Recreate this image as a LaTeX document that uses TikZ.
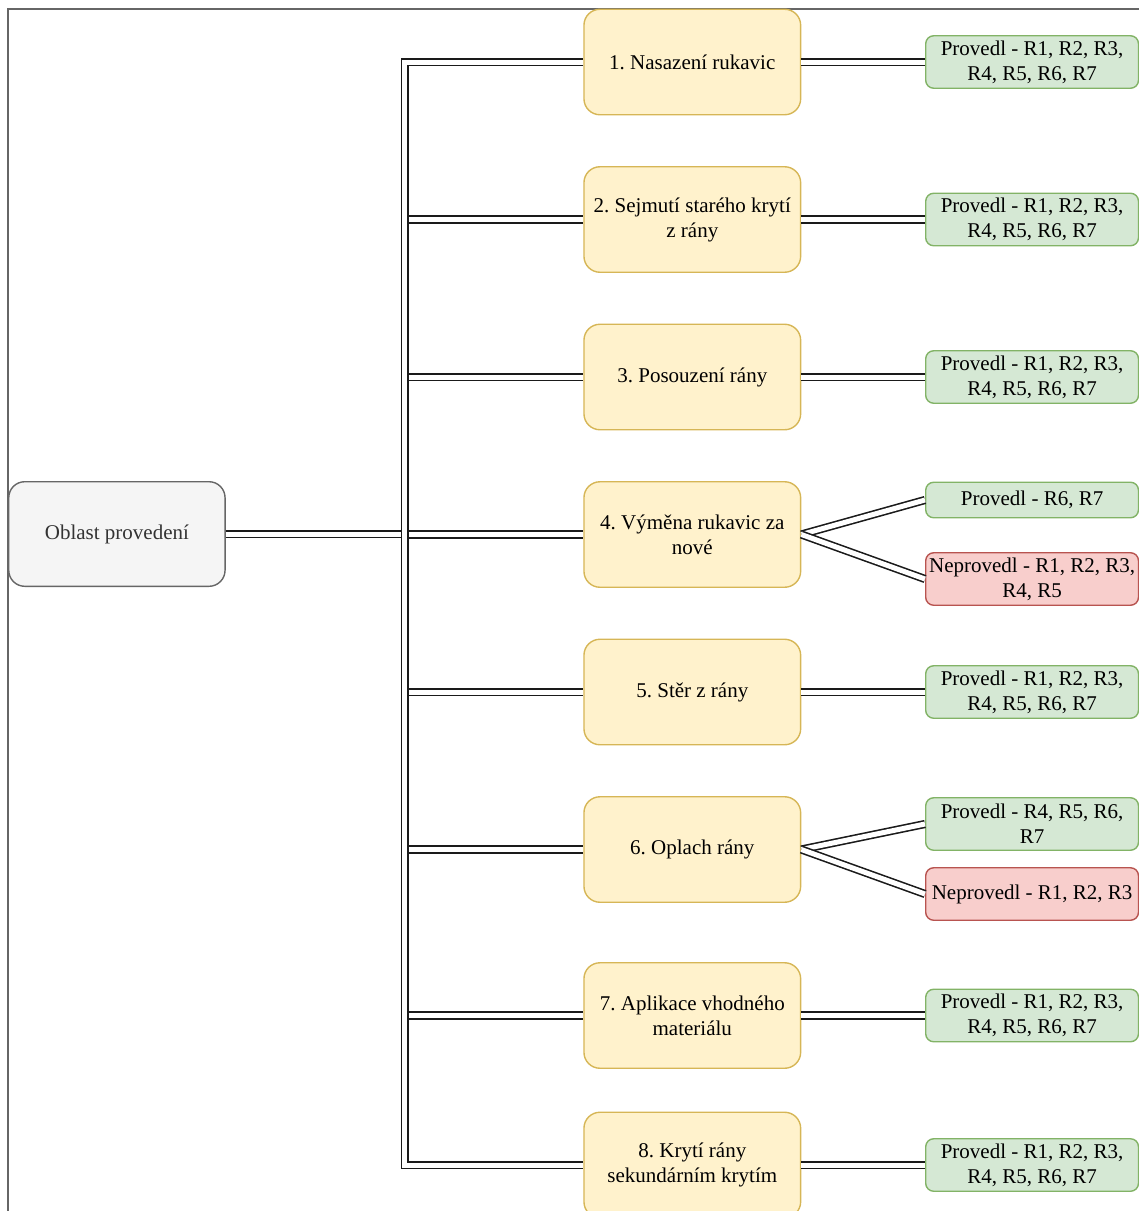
\documentclass[tikz,border=0pt]{standalone}
\usepackage{fontspec}
\setmainfont{Liberation Serif}
\frenchspacing
\definecolor{yfill}{HTML}{FFF2CC}
\definecolor{ystroke}{HTML}{D6B656}
\definecolor{gfill}{HTML}{D5E8D4}
\definecolor{gstroke}{HTML}{82B366}
\definecolor{rfill}{HTML}{F8CECC}
\definecolor{rstroke}{HTML}{B85450}
\definecolor{qfill}{HTML}{F5F5F5}
\definecolor{qstroke}{HTML}{666666}
\definecolor{linec}{HTML}{1A1A1A}
\tikzset{
  base/.style={draw, line width=1.4pt, inner sep=0pt, align=center,
    font=\fontsize{21}{25}\selectfont},
  rootbox/.style={base, fill=qfill, draw=qstroke, text=black!80,
    minimum width=216.3pt, minimum height=104.6pt, rounded corners=16pt},
  stepbox/.style={base, fill=yfill, draw=ystroke,
    minimum width=216.7pt, minimum height=105.5pt, rounded corners=16pt},
  okbox/.style={base, fill=gfill, draw=gstroke,
    minimum width=212.8pt, minimum height=52.5pt, rounded corners=8pt},
  failbox/.style={base, fill=rfill, draw=rstroke,
    minimum width=212.8pt, minimum height=52.5pt, rounded corners=8pt},
  link/.style={draw=linec, line width=1.6pt, double=white, double distance=5pt},
  frame/.style={draw=black!60, line width=1.3pt}
}
\begin{document}
\begin{tikzpicture}[x=1pt, y=-1pt]
\useasboundingbox (0,0) rectangle (1139,1211);
% outer frame (cut by the picture edge)
\coordinate (fa) at (8,1211);
\coordinate (fb) at (8,9);
\coordinate (fc) at (1139,9);
\draw[frame] (fa) -- (fb) -- (fc);

% root
\node[rootbox] (root) at (116.9,534) {Oblast provedení};

% steps
\node[stepbox] (b1) at (692.3,62)    {1. Nasazení rukavic};
\node[stepbox] (b2) at (692.3,219.5) {2. Sejmutí starého krytí\\z rány};
\node[stepbox] (b3) at (692.3,377)   {3. Posouzení rány};
\node[stepbox] (b4) at (692.3,534.5) {4. Výměna rukavic za\\nové};
\node[stepbox] (b5) at (692.3,692)   {5. Stěr z rány};
\node[stepbox] (b6) at (692.3,849.5) {6. Oplach rány};
\node[stepbox] (b7) at (692.3,1015.5){7. Aplikace vhodného\\materiálu};
\node[stepbox] (b8) at (692.3,1165)  {8. Krytí rány\\sekundárním krytím};

% results
\node[okbox] (g1) at (1032.1,62)    {Provedl - R1, R2, R3,\\R4, R5, R6, R7};
\node[okbox] (g2) at (1032.1,219.5) {Provedl - R1, R2, R3,\\R4, R5, R6, R7};
\node[okbox] (g3) at (1032.1,377)   {Provedl - R1, R2, R3,\\R4, R5, R6, R7};
\node[okbox, minimum height=35.5pt] (g4) at (1032.1,500) {Provedl - R6, R7};
\node[failbox] (r4) at (1032.1,579) {Neprovedl - R1, R2, R3,\\R4, R5};
\node[okbox] (g5) at (1032.1,692)   {Provedl - R1, R2, R3,\\R4, R5, R6, R7};
\node[okbox] (g6) at (1032.1,824)   {Provedl - R4, R5, R6,\\R7};
\node[failbox] (r6) at (1032.1,894) {Neprovedl - R1, R2, R3};
\node[okbox] (g7) at (1032.1,1015.5){Provedl - R1, R2, R3,\\R4, R5, R6, R7};
\node[okbox] (g8) at (1032.1,1165)  {Provedl - R1, R2, R3,\\R4, R5, R6, R7};

% trunk
\coordinate (tk) at (404.7,0);
\coordinate (tkl) at (400.7,0);
\coordinate (tkr) at (408.8,0);
\draw[link] (b1.west) -- (b1.west -| tk) -- (b8.west -| tk) -- (b8.west);
\draw[link] (root.east) -- (root.east -| tkl);
\foreach \b in {b2,b3,b4,b5,b6,b7}{
  \draw[link] (\b.west -| tkr) -- (\b.west);
}

% step -> result
\foreach \b/\g in {b1/g1,b2/g2,b3/g3,b5/g5,b7/g7,b8/g8}{
  \draw[link] (\b.east) -- (\g.west);
}
\draw[link] (b4.east) -- (g4.west);
\draw[link] (b4.east) -- (r4.west);
\draw[link] (b6.east) -- (g6.west);
\draw[link] (b6.east) -- (r6.west);
\end{tikzpicture}
\end{document}
